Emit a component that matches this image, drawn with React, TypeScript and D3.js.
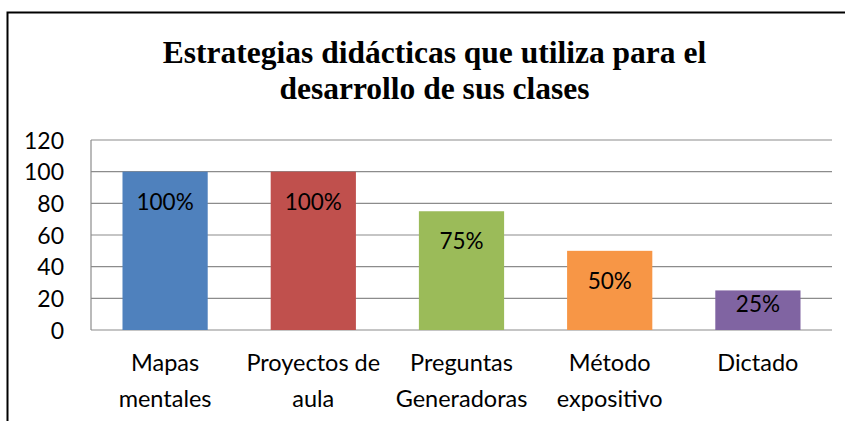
import React from "react";
import * as d3 from "d3";

const titleLines = ["Estrategias didácticas que utiliza para el", "desarrollo de sus clases"];
const categories = ["Mapas\nmentales", "Proyectos de\naula", "Preguntas\nGeneradoras", "Método\nexpositivo", "Dictado"];
const values = [100, 100, 75, 50, 25];
const valueLabels = ["100%", "100%", "75%", "50%", "25%"];
const barColors = ["#4F81BD", "#C0504D", "#9BBB59", "#F79646", "#8064A2"];
const yTicks = [0, 20, 40, 60, 80, 100, 120];

const W = 845;
const H = 421;
const plot = { left: 91, right: 832, top: 140, bottom: 330 };
const FONT = "Lato, 'Open Sans', sans-serif";

export default function App() {
  const x = d3.scaleBand<string>().domain(categories).range([plot.left, plot.right]).padding(0);
  const y = d3.scaleLinear().domain([0, 120]).range([plot.bottom, plot.top]);
  const bw = x.bandwidth() * 0.575;

  return (
    <svg width={W} height={H} style={{ position: "absolute", left: 0, top: 0, background: "#fff" }}>
      <rect x={0} y={0} width={W} height={H} fill="#fff" />
      {/* outer frame */}
      <path d={`M7.5,${H} L7.5,12.5 L${W},12.5`} fill="none" stroke="#000" strokeWidth={2} />
      {/* title */}
      {titleLines.map((t, i) => (
        <text
          key={t}
          x={434.5}
          y={63 + i * 36}
          textAnchor="middle"
          fontFamily="'Liberation Serif', 'Times New Roman', serif"
          fontWeight="bold"
          fontSize={31.5}
          fill="#000"
        >
          {t}
        </text>
      ))}
      {/* gridlines */}
      {yTicks.map((t) => (
        <line key={t} x1={plot.left} x2={plot.right} y1={y(t)} y2={y(t)} stroke="#8C8C8C" strokeWidth={1.2} />
      ))}
      <line x1={plot.left} x2={plot.left} y1={plot.top} y2={plot.bottom} stroke="#8C8C8C" strokeWidth={1.2} />
      {/* tick labels */}
      {yTicks.map((t) => (
        <text key={t} x={64} y={y(t) + 8.5} textAnchor="end" fontFamily={FONT} fontSize={23} fill="#000">
          {t}
        </text>
      ))}
      {/* bars */}
      {categories.map((c, i) => {
        const cx = (x(c) as number) + x.bandwidth() / 2;
        const top = y(values[i]);
        const h = plot.bottom - top;
        return (
          <g key={c}>
            <rect x={cx - bw / 2} y={top} width={bw} height={h} fill={barColors[i]} />
            <text
              x={cx}
              y={top + Math.min(38, h / 2 + 1.5)}
              textAnchor="middle"
              fontFamily={FONT}
              fontSize={22.5}
              fill="#000"
            >
              {valueLabels[i]}
            </text>
          </g>
        );
      })}
      {/* category labels */}
      {categories.map((c) => {
        const cx = (x(c) as number) + x.bandwidth() / 2;
        return c.split("\n").map((line, j) => (
          <text
            key={c + j}
            x={cx}
            y={371 + j * 36}
            textAnchor="middle"
            fontFamily={FONT}
            fontSize={23.5}
            fill="#000"
          >
            {line}
          </text>
        ));
      })}
    </svg>
  );
}
